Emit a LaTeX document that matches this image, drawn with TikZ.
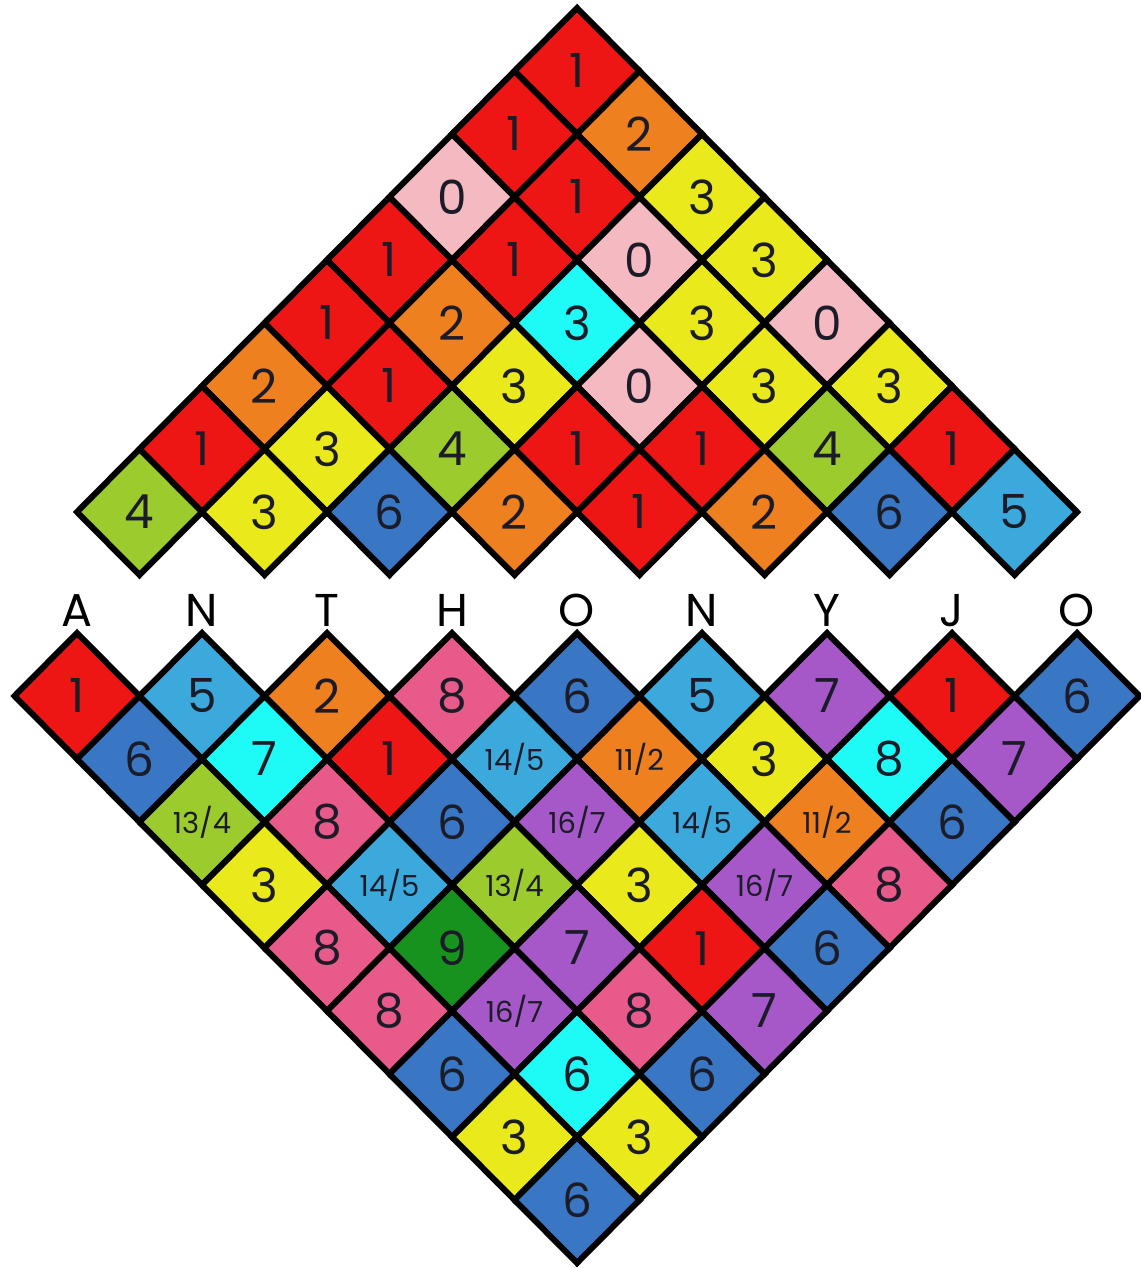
\documentclass[tikz,border=0pt]{standalone}
\usepackage{fontspec}
\setmainfont{Poppins}
\definecolor{c0}{HTML}{F4B9C1}
\definecolor{c1}{HTML}{EE1515}
\definecolor{c2}{HTML}{EF8020}
\definecolor{c3}{HTML}{E9E91C}
\definecolor{c4}{HTML}{9CCB2E}
\definecolor{c5}{HTML}{3CA9DD}
\definecolor{c6}{HTML}{3977C4}
\definecolor{c7}{HTML}{A658C8}
\definecolor{c8}{HTML}{E85A8A}
\definecolor{c9}{HTML}{18921E}
\definecolor{cc}{HTML}{1EFBF6}
\definecolor{ink}{HTML}{1C1C28}
\tikzset{
  tile/.style={draw=black, line width=6pt, line join=miter},
  num/.style={font=\fontsize{47}{47}\selectfont, text=ink, inner sep=0pt},
  letter/.style={font=\fontsize{46}{46}\selectfont, text=black, anchor=base, inner sep=0pt}
}
\newcommand\fr{\fontsize{29}{29}\selectfont}
\newcommand\tilerow[4]{%
  \foreach \v/\c [count=\j from 1] in {#4} {
    \pgfmathsetmacro\xx{#2+(\j-1)*125}
    \filldraw[tile, fill=\c] (\xx-62.5,#3) -- (\xx,#3-63) -- (\xx+62.5,#3) -- (\xx,#3+63) -- cycle;
    \node[num] (#1-\j) at (\xx,#3) {\v};
  }}
\begin{document}
\begin{tikzpicture}[x=1pt,y=-1pt]
\useasboundingbox[fill=white] (0,0) rectangle (1140,1268);
% top triangle
\tilerow{t1}{577}{71}{1/c1}
\tilerow{t2}{514.5}{134}{1/c1,2/c2}
\tilerow{t3}{452}{197}{0/c0,1/c1,3/c3}
\tilerow{t4}{389.5}{260}{1/c1,1/c1,0/c0,3/c3}
\tilerow{t5}{327}{323}{1/c1,2/c2,3/cc,3/c3,0/c0}
\tilerow{t6}{264.5}{386}{2/c2,1/c1,3/c3,0/c0,3/c3,3/c3}
\tilerow{t7}{202}{449}{1/c1,3/c3,4/c4,1/c1,1/c1,4/c4,1/c1}
\tilerow{t8}{139.5}{512}{4/c4,3/c3,6/c6,2/c2,1/c1,2/c2,6/c6,5/c5}
% letters
\foreach \l [count=\j from 0] in {A,N,T,H,O,N,Y,J,O} {
  \node[letter] (l\j) at (77+\j*125,626) {\l};
}
% bottom triangle
\tilerow{b1}{77}{696}{1/c1,5/c5,2/c2,8/c8,6/c6,5/c5,7/c7,1/c1,6/c6}
\tilerow{b2}{139.5}{759}{6/c6,7/cc,1/c1,{\fr 14/5}/c5,{\fr 11/2}/c2,3/c3,8/cc,7/c7}
\tilerow{b3}{202}{822}{{\fr 13/4}/c4,8/c8,6/c6,{\fr 16/7}/c7,{\fr 14/5}/c5,{\fr 11/2}/c2,6/c6}
\tilerow{b4}{264.5}{885}{3/c3,{\fr 14/5}/c5,{\fr 13/4}/c4,3/c3,{\fr 16/7}/c7,8/c8}
\tilerow{b5}{327}{948}{8/c8,9/c9,7/c7,1/c1,6/c6}
\tilerow{b6}{389.5}{1011}{8/c8,{\fr 16/7}/c7,8/c8,7/c7}
\tilerow{b7}{452}{1074}{6/c6,6/cc,6/c6}
\tilerow{b8}{514.5}{1137}{3/c3,3/c3}
\tilerow{b9}{577}{1200}{6/c6}
\end{tikzpicture}
\end{document}
